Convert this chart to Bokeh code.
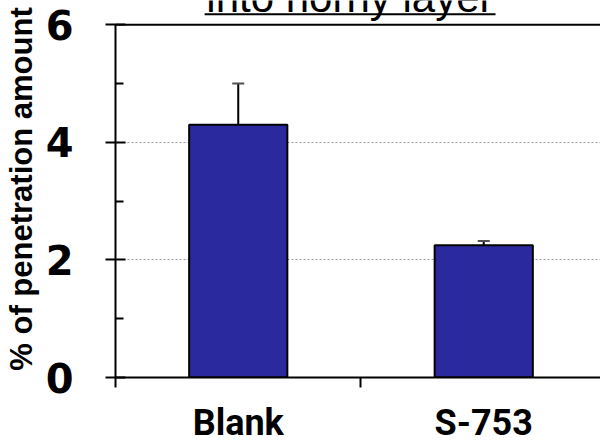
from bokeh.plotting import figure
from bokeh.models import (Range1d, FixedTicker, Span, Whisker, TeeHead, ColumnDataSource)
from bokeh.core.properties import value
from bokeh.embed import file_html
from bokeh.resources import INLINE

# ---- data ----
categories = ["Blank", "S-753"]
means = [4.30, 2.25]
errors = [0.70, 0.07]
y_ticks = [0, 2, 4, 6]
y_minor = [1, 3, 5]
title_text = "into horny layer"
y_label = "% of penetration amount"

xc = [i + 0.5 for i in range(len(categories))]
upper = [m + e for m, e in zip(means, errors)]
y_max = max(y_ticks)

src = ColumnDataSource(dict(x=xc, top=means, upper=upper, lower=means))

# the frame reaches the top of the page so that the (cut-off) title can be drawn inside it;
# the y axis itself is bounded to 0..6
p = figure(width=600, height=446, output_backend="svg", toolbar_location=None,
           x_range=Range1d(0, 1.9756), y_range=Range1d(0, 6.411),
           min_border_left=115, min_border_right=0, min_border_top=0, min_border_bottom=56)
p.outline_line_color = None
p.background_fill_color = "white"
p.border_fill_color = "white"

# grid
p.xgrid.visible = False
p.ygrid.ticker = FixedTicker(ticks=[2, 4])
p.ygrid.grid_line_color = "#9a9a9a"
p.ygrid.grid_line_dash = "2 2"
p.ygrid.grid_line_width = 1

# top frame line at 6
p.add_layout(Span(location=y_max, dimension="width", line_color="black", line_width=2))

# bars
p.vbar(x="x", top="top", bottom=0, width=0.40, source=src,
       fill_color="#2a2a9e", line_color="black", line_width=2)

# error bars
w = Whisker(base="x", upper="upper", lower="lower", source=src, dimension="height",
            line_color="black", line_width=2, lower_head=None,
            upper_head=TeeHead(size=12, line_color="#505050", line_width=2))
p.add_layout(w)

# y axis
yax = p.yaxis[0]
yax.bounds = (0, y_max)
yax.ticker = FixedTicker(ticks=y_ticks, minor_ticks=y_minor)
yax.axis_line_width = 2
yax.axis_line_color = "black"
yax.major_tick_line_width = 2
yax.major_tick_in = 10
yax.major_tick_out = 10
yax.minor_tick_line_width = 2
yax.minor_tick_in = 8
yax.minor_tick_out = 0
yax.major_label_text_font = "DejaVu Sans"
yax.major_label_text_font_style = "bold"
yax.major_label_text_font_size = "40px"
yax.major_label_text_color = "black"
yax.major_label_standoff = 32
yax.axis_label = y_label
yax.axis_label_text_font = "Liberation Sans"
yax.axis_label_text_font_style = "bold"
yax.axis_label_text_font_size = "31px"
yax.axis_label_text_color = "black"
yax.axis_label_standoff = 4

# x axis: boundary ticks as minor ticks, category names as major labels
xax = p.xaxis[0]
xax.ticker = FixedTicker(ticks=xc, minor_ticks=[0, 1, 2])
xax.major_label_overrides = {x: c for x, c in zip(xc, categories)}
xax.axis_line_width = 2
xax.axis_line_color = "black"
xax.minor_tick_line_width = 2
xax.minor_tick_in = 0
xax.minor_tick_out = 10
xax.major_tick_in = 0
xax.major_tick_out = 0
xax.major_label_text_font = "Roboto"
xax.major_label_text_font_style = "bold"
xax.major_label_text_font_size = "36px"
xax.major_label_text_color = "black"
xax.major_label_standoff = 14

# title (cut off at the top in the reference) with its underline
p.text(x=[0.955], y=[6.46], text=[title_text], text_align="center",
       text_baseline="alphabetic", text_font=value("Liberation Sans"),
       text_font_size="42px", text_color="black")
p.segment(x0=[0.363], y0=[6.176], x1=[1.548], y1=[6.176], line_color="black", line_width=2)

open("out.html", "w").write(file_html(p, INLINE))
